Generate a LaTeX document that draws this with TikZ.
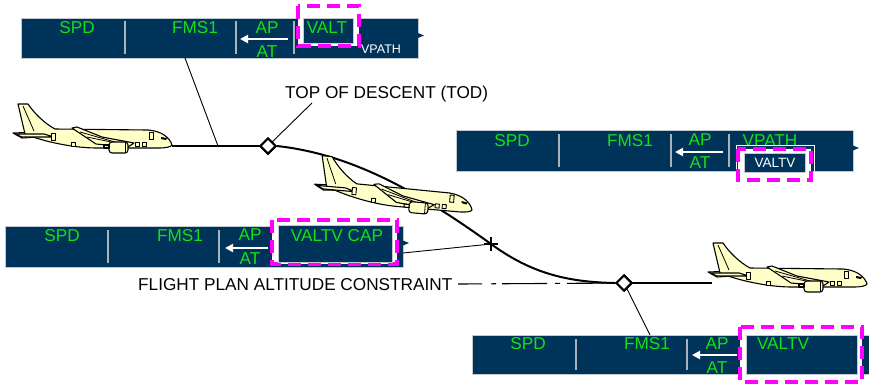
\documentclass[tikz,border=0pt]{standalone}
\usepackage{fontspec}
\setmainfont{Liberation Sans}
\usetikzlibrary{arrows.meta,shapes.geometric,calc}

\definecolor{barblue}{RGB}{0,51,89}
\definecolor{modegreen}{RGB}{20,225,20}
\definecolor{hilite}{RGB}{255,0,255}
\definecolor{planefill}{RGB}{255,255,200}
\definecolor{divgray}{RGB}{170,178,188}

\tikzset{
  fmabar/.style={fill=barblue, draw=divgray!70, line width=0.8pt, inner sep=0pt, outer sep=0pt, anchor=north west},
  divider/.style={draw=divgray, line width=1.6pt},
  annun/.style={font=\fontsize{17.2}{17.2}\selectfont, text=modegreen, inner sep=0pt, anchor=base},
  smallannun/.style={font=\fontsize{13.5}{13.5}\selectfont, text=white, inner sep=0pt, anchor=base},
  hlbox/.style={draw=hilite, line width=4pt, dash pattern=on 13pt off 7pt, fill=white},
  modebox/.style={fill=barblue, draw=divgray!70, line width=1pt},
  engage/.style={draw=white, line width=2pt, -{Triangle[length=8pt,width=8pt]}},
  flightpath/.style={line width=2pt, line join=round},
  leader/.style={line width=0.9pt},
  waypt/.style={diamond, draw, fill=white, line width=2pt, minimum width=16pt, minimum height=16pt, inner sep=0pt},
  annotext/.style={font=\fontsize{17.2}{17.2}\selectfont, inner sep=0pt},
  notch/.style={fill=barblue},
  craft/.style={draw, fill=planefill, line width=1.1pt, line join=round},
  airliner/.pic={
    % tail stabiliser (far side)
    \draw[craft] (-159,-12) -- (-131,-13) -- (-118,-9) -- (-150,-7) -- cycle;
    % fuselage with fin
    \draw[craft] (0,0) .. controls (-2,-7) and (-10,-14) .. (-24,-15)
      -- (-117,-16)
      .. controls (-128,-22) and (-138,-32) .. (-144,-41)
      -- (-154,-41)
      -- (-147,-11)
      .. controls (-130,-4) and (-100,3) .. (-75,3)
      -- (-14,3)
      .. controls (-6,3) and (-1,2) .. cycle;
    \draw[line width=0.8pt] (-149,-39) -- (-138,-14);
    \draw[craft] (-157,-11) -- (-128,-11) -- (-118,-8) -- (-150,-8) -- cycle;
    % wing
    \draw[craft] (-100,-17) -- (-95,-18) -- (-70,-8) -- (-38,-2) -- (-44,2) -- (-76,-1) -- cycle;
    \draw[line width=0.8pt] (-92,-13) -- (-50,-1);
    \draw[line width=0.8pt] (-85,-8) -- (-56,-2);
    % engine
    \draw[craft, rounded corners=3pt] (-63,-3) rectangle (-44,8);
    \draw[line width=0.8pt] (-47,-3) -- (-47,8);
    \draw[craft] (-68,0) -- (-63,0) -- (-63,3) -- (-68,3) -- cycle;
    % doors and hatches
    \draw[craft, line width=0.9pt] (-121,-12) rectangle (-117,-5);
    \draw[craft, line width=0.9pt] (-23,-13) rectangle (-19,-6);
    \draw[craft, line width=0.9pt] (-101,-3) rectangle (-97,1);
    \draw[craft, line width=0.9pt] (-37,-3) rectangle (-33,1);
    \draw[craft, line width=0.9pt] (-30,-3) rectangle (-26,1);
    % windscreen
    \fill (-11,-8) -- (-5,-7) -- (-6,-5) -- (-11,-6) -- cycle;
  }
}

\begin{document}
\begin{tikzpicture}[x=1pt,y=-1pt]
\useasboundingbox (0,0) rectangle (869,384);

% ---------- flight path ----------
\node[waypt] (tod) at (268,146) {};
\node[waypt] (fpc) at (624,283) {};
\coordinate (cross) at (491,244);
\coordinate (cruise) at (172,146);
\coordinate (level) at (712,283);

\draw[flightpath] (cruise) -- (tod.center);
\draw[flightpath] (tod.east) .. controls (350,154) and (416,190) .. (cross)
  .. controls (531,273) and (566,282) .. (fpc.west);
\draw[flightpath] (fpc.center) -- (level);
\draw[line width=1.5pt] ($(cross)+(-7,0)$) -- ($(cross)+(7,0)$);

% ---------- mode bar 1 (cruise) ----------
\node[fmabar, minimum width=397pt, minimum height=40pt] (bar1) at (21,18) {};
\fill[notch] (418,33) -- (424,35.5) -- (418,38) -- cycle;
\draw[divider] (125,21) -- (125,54);
\draw[divider] (236,21) -- (236,54);
\draw[divider] (294,21) -- (294,54);
\node[annun] (spd1) at (77,33) {SPD};
\node[annun] (fms1) at (195,33) {FMS1};
\node[annun] (ap1) at (267,33) {AP};
\node[annun] (at1) at (267,57) {AT};
\draw[engage] (288,39) -- (240,39);
\draw[hlbox] (298,6) rectangle (359,46);
\draw[modebox] (303,18) rectangle (353,43);
\node[annun] (valt1) at (327,33) {VALT};
\node[smallannun, font=\fontsize{12.5}{12.5}\selectfont] (vpath1) at (381,53) {VPATH};

% ---------- mode bar 2 (descent) ----------
\node[fmabar, minimum width=397pt, minimum height=41pt] (bar2) at (456,130) {};
\fill[notch] (853,145.5) -- (859,148) -- (853,150.5) -- cycle;
\draw[divider] (559,134) -- (559,167);
\draw[divider] (671,134) -- (671,167);
\draw[divider] (729,134) -- (729,167);
\node[annun] (spd2) at (512,146) {SPD};
\node[annun] (fms2) at (630,146) {FMS1};
\node[annun] (ap2) at (700,145) {AP};
\node[annun] (at2) at (700,168) {AT};
\draw[engage] (723,152) -- (675,152);
\node[annun] (vpath2) at (770,146) {VPATH};
\draw[white, line width=0.9pt] (736,171) -- (736,145) -- (814,145) -- (814,171);
\draw[hlbox] (738,149) rectangle (811,180);
\draw[modebox] (744,153) rectangle (805,172);
\node[smallannun] (valtv2) at (775,167.5) {VALTV};

% ---------- mode bar 3 (capture) ----------
\node[fmabar, minimum width=398pt, minimum height=41pt] (bar3) at (5,226) {};
\fill[notch] (403,240.5) -- (409,243) -- (403,245.5) -- cycle;
\draw[divider] (108,230) -- (108,263);
\draw[divider] (219,230) -- (219,263);
\node[annun] (spd3) at (62,241) {SPD};
\node[annun] (fms3) at (180,241) {FMS1};
\node[annun] (ap3) at (250,240) {AP};
\node[annun] (at3) at (250,264.5) {AT};
\draw[engage] (268,248) -- (225,248);
\draw[hlbox] (272,220) rectangle (397,264);
\draw[modebox] (278,225) rectangle (392,262);
\node[annun] (cap3) at (337,241) {VALTV CAP};

% ---------- mode bar 4 (level) ----------
\node[fmabar, minimum width=397pt, minimum height=39pt] (bar4) at (472,335) {};
\draw[divider] (576,339) -- (576,370);
\draw[divider] (687,339) -- (687,370);
\node[annun] (spd4) at (528,349) {SPD};
\node[annun] (fms4) at (647,349) {FMS1};
\node[annun] (ap4) at (717,349) {AP};
\node[annun] (at4) at (717,373.5) {AT};
\draw[engage] (737,355) -- (692,355);
\draw[hlbox] (740,327) rectangle (862,382);
\draw[modebox] (746,335) rectangle (857,374);
\node[annun] (valtv4) at (783,349) {VALTV};

% ---------- leaders ----------
\coordinate (b1foot) at (185,58);
\coordinate (b1path) at (218,146);
\coordinate (b3foot) at (403,253);
\coordinate (b4foot) at (650,335);
\coordinate (todtip) at (312,103);
\coordinate (dashstart) at (458,284);
\draw[leader] (b1foot) -- (b1path);
\draw[leader] (b3foot) -- (cross);
\draw[leader] (b4foot) -- (fpc.center);
\draw[leader] (tod.center) -- (todtip);
\node[annotext, anchor=base west] (todlbl) at (285,98) {TOP OF DESCENT (TOD)};
\node[annotext, anchor=base west] (fpclbl) at (138,290) {FLIGHT PLAN ALTITUDE CONSTRAINT};
\draw[line width=1.1pt, dash pattern=on 24pt off 9pt on 5pt off 6pt on 45pt off 8pt on 5pt off 7pt on 60pt]
  (dashstart) -- (fpc.center);

% waypoint symbols over the lines
\node[waypt] at (tod) {};
\node[waypt] at (fpc) {};
\draw[line width=1.5pt] ($(cross)+(0,-7)$) -- ($(cross)+(0,7)$);

% ---------- aircraft ----------
\pic at (172,145) {airliner};
\pic[rotate=-5] at (472,210) {airliner};
\pic at (867,284) {airliner};
\end{tikzpicture}
\end{document}
